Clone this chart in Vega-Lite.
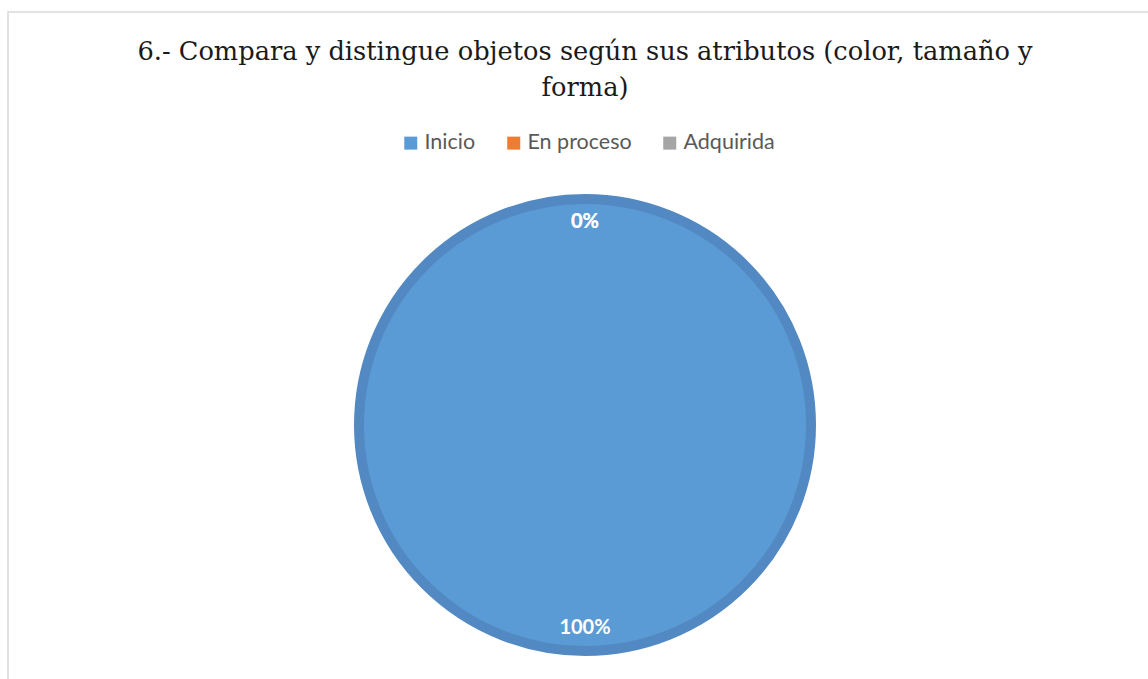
{
  "$schema": "https://vega.github.io/schema/vega-lite/v6.json",
  "width": 1154,
  "height": 826,
  "autosize": {"type": "none"},
  "padding": {"left": 8, "top": 12, "right": 0, "bottom": 0},
  "background": "white",
  "view": {"stroke": "#d9d9d9", "strokeWidth": 1.5},
  "title": {
    "text": ["6.- Compara y distingue objetos según sus atributos (color, tamaño y", "forma)"],
    "font": "DejaVu Serif",
    "fontSize": 25.7,
    "fontWeight": "normal",
    "color": "#1a1a1a",
    "anchor": "middle",
    "frame": "group",
    "lineHeight": 36,
    "offset": -90
  },
  "data": {
    "values": [
      {"category": "Inicio", "value": 1},
      {"category": "En proceso", "value": 0},
      {"category": "Adquirida", "value": 0}
    ]
  },
  "layer": [
    {
      "transform": [{"filter": "datum.value > 0"}],
      "mark": {"type": "arc", "outerRadius": 226, "stroke": "#5289c2", "strokeWidth": 10},
      "encoding": {
        "theta": {"field": "value", "type": "quantitative", "stack": true},
        "color": {
          "field": "category",
          "type": "nominal",
          "scale": {"domain": ["Inicio", "En proceso", "Adquirida"], "range": ["#5b9bd5", "#ed7d31", "#a5a5a5"]},
          "legend": {
            "title": null,
            "orient": "none",
            "direction": "horizontal",
            "legendX": 392,
            "legendY": 120,
            "symbolType": "square",
            "symbolSize": 169,
            "symbolStrokeWidth": 0,
            "labelFont": "Lato",
            "labelFontSize": 21.5,
            "labelColor": "#595959",
            "labelOffset": 3,
            "columnPadding": 27
          }
        }
      }
    },
    {
      "mark": {"type": "text", "radius": 203, "font": "Lato", "fontSize": 20, "fontWeight": "bold", "fill": "white"},
      "encoding": {
        "theta": {"field": "value", "type": "quantitative", "stack": true},
        "detail": {"field": "category", "type": "nominal"},
        "text": {"field": "value", "type": "quantitative", "format": ".0%"}
      }
    }
  ]
}
